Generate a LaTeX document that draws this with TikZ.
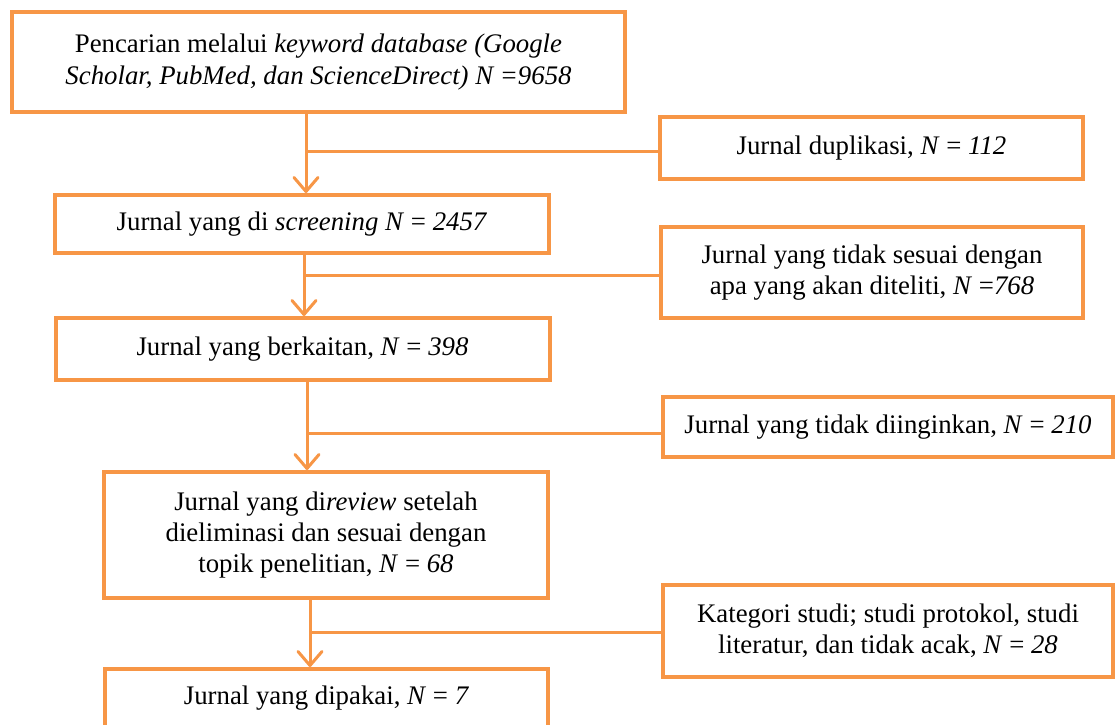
\documentclass[tikz,border=0pt]{standalone}
\usepackage{fontspec}
\setmainfont{Liberation Serif}
\usetikzlibrary{arrows.meta}
\usetikzlibrary{calc}
\definecolor{flowor}{RGB}{247,150,70}
\tikzset{
    box/.style={draw=flowor, line width=2pt, fill=white, align=center, inner sep=2pt},
    link/.style={draw=flowor, line width=1.5pt},
    flow/.style={link, -{Straight Barb[length=7pt,width=12pt,round]}}
}

\begin{document}
\begin{tikzpicture}[x=0.5pt, y=-0.5pt, font=\fontsize{13.4}{15.6}\selectfont]
        \useasboundingbox (0,0) rectangle (1115,724);
        % main column
        \node[box, minimum width=306.5pt, minimum height=50pt] (b1) at (318.5,62)
            {Pencarian melalui \textit{keyword database (Google}\\\textit{Scholar, PubMed, dan ScienceDirect) N =9658}};
        \node[box, minimum width=247pt, minimum height=29pt] (b2) at (302,224)
            {Jurnal yang di \textit{screening N} = \textit{2457}};
        \node[box, minimum width=247pt, minimum height=31pt] (b3) at (302.5,349)
            {Jurnal yang berkaitan, \textit{N} = \textit{398}};
        \node[box, minimum width=222pt, minimum height=63pt] (b4) at (326,535)
            {Jurnal yang di\textit{review} setelah\\dieliminasi dan sesuai dengan\\topik penelitian, \textit{N} = \textit{68}};
        \node[box, minimum width=221.5pt, minimum height=29pt] (b5) at (326.5,698)
            {Jurnal yang dipakai, \textit{N} = \textit{7}};
        % excluded
        \node[box, minimum width=211.5pt, minimum height=31pt] (r1) at (871.5,148)
            {Jurnal duplikasi, \textit{N} = \textit{112}};
        \node[box, minimum width=211pt, minimum height=45.5pt] (r2) at (872,272.5)
            {Jurnal yang tidak sesuai dengan\\apa yang akan diteliti, \textit{N} =\textit{768}};
        \node[box, minimum width=225pt, minimum height=30pt] (r3) at (888,427)
            {Jurnal yang tidak diinginkan, \textit{N} = \textit{210}};
        \node[box, minimum width=225pt, minimum height=46pt] (r4) at (888,631)
            {Kategori studi; studi protokol, studi\\literatur, dan tidak acak, \textit{N} = \textit{28}};

        \coordinate (j1) at (306,151);
        \coordinate (j2) at (304,275);
        \coordinate (j3) at (307,433);
        \coordinate (j4) at (310,632);

        \draw[flow] (b1.south -| j1) -- (b2.north -| j1);
        \draw[flow] (b2.south -| j2) -- (b3.north -| j2);
        \draw[flow] (b3.south -| j3) -- (b4.north -| j3);
        \draw[flow] (b4.south -| j4) -- (b5.north -| j4);

        \draw[link] (j1) -- (j1 -| r1.west);
        \draw[link] (j2) -- (j2 -| r2.west);
        \draw[link] (j3) -- (j3 -| r3.west);
        \draw[link] (j4) -- (j4 -| r4.west);
\end{tikzpicture}
\end{document}
